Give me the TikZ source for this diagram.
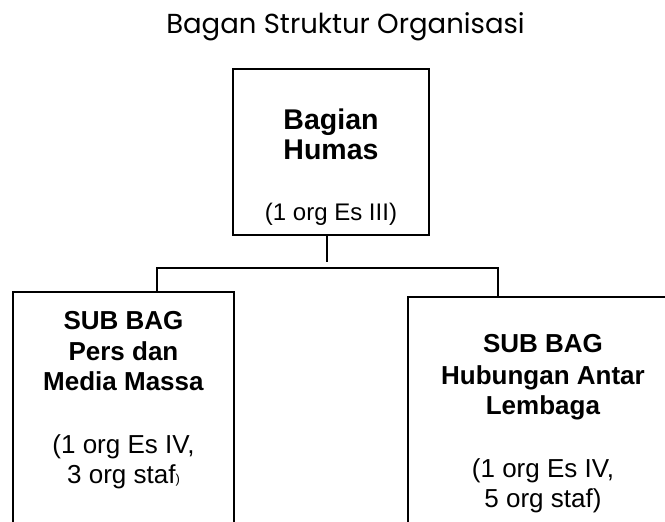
\documentclass[tikz,border=0pt]{standalone}
\usepackage{fontspec}
\setmainfont{Liberation Sans}
\newfontfamily\titlefont{Poppins}
\usetikzlibrary{positioning}

\newcommand{\headline}[1]{{\fontsize{28.5}{30}\selectfont\bfseries #1}}
\newcommand{\headnote}[1]{{\fontsize{24}{30}\selectfont #1}}

\tikzset{
  box/.style={draw, line width=1.8pt, rectangle, inner sep=0pt},
  boxtext/.style={align=center, font=\fontsize{26}{30}\selectfont, inner sep=0pt},
  link/.style={line width=1.5pt}
}

\begin{document}
\begin{tikzpicture}[x=1pt,y=-1pt]
\useasboundingbox (0,0) rectangle (665,522);
\clip (0,0) rectangle (665,522);

% title
\node[anchor=base, font=\titlefont\fontsize{27.5}{32}\selectfont] (title) at (345.5,34) {Bagan Struktur Organisasi};

% boxes
\node[box, minimum width=196pt, minimum height=166pt] (humas) at (331,152) {};
\node[box, minimum width=221pt, minimum height=260pt] (pers) at (123.5,422) {};
\node[box, minimum width=270pt, minimum height=260pt] (hal) at (543,427) {};

% box texts
\node[boxtext, anchor=north] (humas-t) at (331,109) {\headline{Bagian}\\\headline{Humas}\\[31pt]\headnote{(1 org Es III)}};
\node[boxtext, anchor=north] (pers-t) at (123.5,311) {\textbf{SUB BAG}\\[1pt]\textbf{Pers dan}\\\textbf{Media Massa}\\[33pt](1 org Es IV,\\3 org staf{\fontsize{13}{13}\selectfont )}};
\node[boxtext, anchor=north] (hal-t) at (543,334) {\textbf{SUB BAG}\\[2pt]\textbf{Hubungan Antar}\\\textbf{Lembaga}\\[33pt](1 org Es IV,\\5 org staf)};

% connectors
\coordinate (stub) at (327,262);
\coordinate (hl) at (157,268);
\coordinate (hr) at (498,268);
\draw[link] (humas.south -| stub) -- (stub);
\draw[link] (pers.north -| hl) -- (hl) -- (hr) -- (hal.north -| hr);
\end{tikzpicture}
\end{document}
